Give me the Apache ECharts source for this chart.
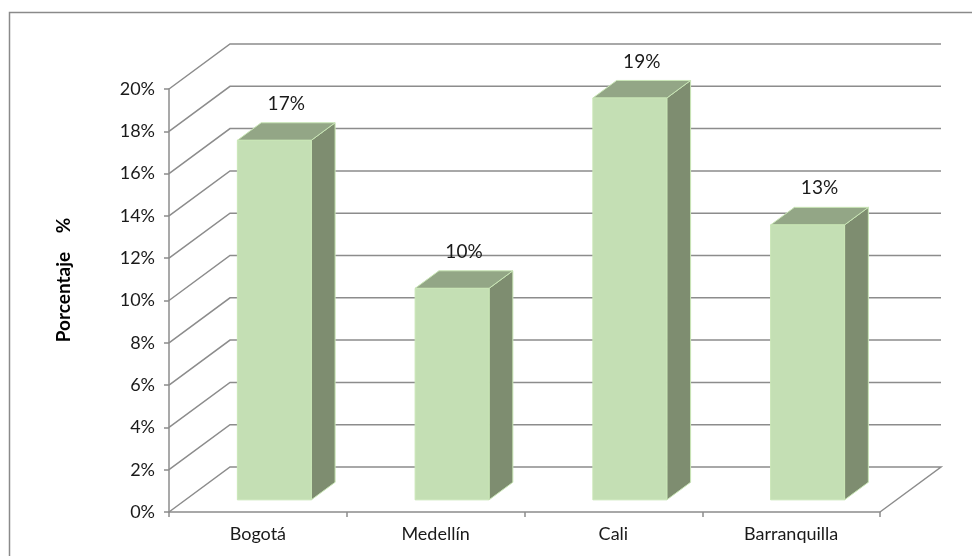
<!DOCTYPE html>
<html>
<head>
<meta charset="utf-8">
<script src="https://cdn.jsdelivr.net/npm/echarts@6/dist/echarts.min.js"></script>
<style>
  html, body { margin: 0; padding: 0; background: #ffffff; }
  #chart { width: 972px; height: 556px; }
</style>
</head>
<body>
<div id="chart"></div>
<script>
// Ciudades y porcentajes
const categories = ['Bogotá', 'Medellín', 'Cali', 'Barranquilla'];
const values = [17, 10, 19, 13];
const yTicks = [0, 2, 4, 6, 8, 10, 12, 14, 16, 18, 20];

// 3D depth of the plot box (pixels) and bar depth range (fraction of box depth)
const DX = 61, DY = -45;
const D0 = 0.27, D1 = 0.66;
const FONT = 'Lato, "Open Sans", sans-serif';
const GRID_COLOR = '#8c8c8c';

const chart = echarts.init(document.getElementById('chart'));

function renderWall(params, api) {
  const cs = params.coordSys;
  const v = api.value(1);
  const y = api.coord([0, v])[1];
  const x0 = cs.x, x1 = cs.x + cs.width;
  const pts = [[x0, y], [x0 + DX, y + DY], [x1 + DX, y + DY]];
  if (v === 0) pts.push([x1, y]);
  return {
    type: 'polyline',
    shape: { points: pts },
    style: { stroke: GRID_COLOR, lineWidth: 1.5, fill: null }
  };
}

function renderBar(params, api) {
  const i = api.value(0), v = api.value(1);
  const band = api.size([1, 0])[0];
  const bw = band * 0.416;
  const base = api.coord([i, 0]);
  const top = api.coord([i, v]);
  const fx = base[0] + D0 * DX - bw / 2;
  const y0 = base[1] + D0 * DY;
  const y1 = top[1] + D0 * DY;
  const ddx = (D1 - D0) * DX, ddy = (D1 - D0) * DY;
  const edge = { stroke: '#c9e6b6', lineWidth: 1 };
  return {
    type: 'group',
    children: [
      {
        type: 'polygon',
        shape: { points: [[fx + bw, y1], [fx + bw + ddx, y1 + ddy], [fx + bw + ddx, y0 + ddy], [fx + bw, y0]] },
        style: Object.assign({ fill: '#7e8d70' }, edge)
      },
      {
        type: 'polygon',
        shape: { points: [[fx, y1], [fx + ddx, y1 + ddy], [fx + bw + ddx, y1 + ddy], [fx + bw, y1]] },
        style: Object.assign({ fill: '#93a686' }, edge)
      },
      {
        type: 'rect',
        shape: { x: fx, y: y1, width: bw, height: y0 - y1 },
        style: Object.assign({ fill: '#c4dfb4' }, edge)
      },
      {
        type: 'text',
        style: {
          x: fx + bw / 2 + ddx / 2,
          y: y1 + ddy - 19,
          text: v + '%',
          fill: '#1a1a1a',
          font: '19px ' + FONT,
          align: 'center',
          verticalAlign: 'middle'
        }
      }
    ]
  };
}

const option = {
  backgroundColor: '#ffffff',
  animation: false,
  grid: { left: 169, top: 89, width: 711, height: 423 },
  xAxis: {
    type: 'category',
    data: categories,
    boundaryGap: true,
    axisLine: { lineStyle: { color: GRID_COLOR, width: 1.5 } },
    axisTick: { show: true, alignWithLabel: false, length: 5, lineStyle: { color: GRID_COLOR, width: 1.5 } },
    axisLabel: { color: '#1a1a1a', fontSize: 18, fontFamily: FONT, margin: 13 },
    splitLine: { show: false }
  },
  yAxis: {
    type: 'value',
    min: 0, max: 20, interval: 2,
    axisLine: { show: true, lineStyle: { color: GRID_COLOR, width: 1.5 } },
    axisTick: { show: true, length: 5, lineStyle: { color: GRID_COLOR, width: 1.5 } },
    axisLabel: { formatter: '{value}%', color: '#1a1a1a', fontSize: 18, fontFamily: FONT, margin: 14 },
    splitLine: { show: false }
  },
  graphic: [
    {
      type: 'rect',
      shape: { x: 9.5, y: 12.5, width: 1000, height: 600 },
      style: { fill: null, stroke: '#8a8a8a', lineWidth: 1.5 },
      silent: true
    },
    {
      type: 'text',
      x: 64, y: 280,
      rotation: Math.PI / 2,
      style: {
        text: 'Porcentaje    %',
        font: 'bold 19px ' + FONT,
        fill: '#000000',
        align: 'center',
        verticalAlign: 'middle'
      }
    }
  ],
  series: [
    {
      type: 'custom',
      renderItem: renderWall,
      data: yTicks.map(v => [0, v]),
      encode: { x: 0, y: 1 },
      clip: false,
      z: 1,
      silent: true
    },
    {
      type: 'custom',
      renderItem: renderBar,
      data: values.map((v, i) => [i, v]),
      encode: { x: 0, y: 1 },
      clip: false,
      z: 2,
      silent: true
    }
  ]
};

chart.setOption(option);
</script>
</body>
</html>
